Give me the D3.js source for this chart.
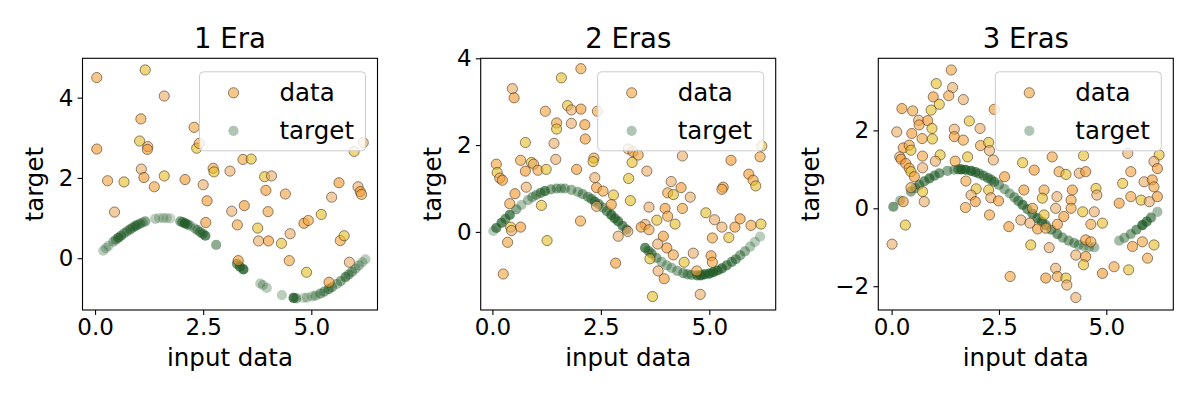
<!DOCTYPE html>
<html><head><meta charset="utf-8">
<script src="https://cdn.jsdelivr.net/npm/d3@7"></script>
<style>
body{margin:0;background:#fff}
svg{display:block}
text{font-family:"DejaVu Sans",sans-serif;fill:#000}
</style>
</head><body>
<svg id="chart" width="1200" height="400"></svg>
<script>
// ---------- labels & ticks ----------
const panelTitles = ["1 Era", "2 Eras", "3 Eras"];
const xLabel = "input data";
const yLabel = "target";
const legendLabels = ["data", "target"];
const xTickValues = [0.0, 2.5, 5.0];
const yTicks1 = [0, 2, 4];
const yTicks2 = [0, 2, 4];
const yTicks3 = [-2, 0, 2];
const xDomain1 = [-0.29, 6.53], yDomain1 = [-1.29, 4.98];
const xDomain2 = [-0.27, 6.53], yDomain2 = [-1.80, 4.00];
const xDomain3 = [-0.31, 6.56], yDomain3 = [-2.61, 3.85];

// ---------- panel 1 : data ----------
const data1X = [0.04,1.16,1.60,0.04,1.06,1.03,1.22,1.21,0.29,0.67,1.07,1.13,1.37,1.60,0.45,2.08,2.29,2.35,2.50,2.59,2.73,2.75,3.12,2.56,3.42,3.61,3.16,3.45,3.29,3.92,4.08,3.95,4.00,3.76,3.78,4.01,4.40,4.31,4.51,4.83,4.93,5.23,5.47,5.64,5.67,5.76,6.08,6.13,6.16,5.99,6.20,3.31,4.49,4.89,5.88,5.41,2.41];
const data1Y = [4.50,4.69,4.04,2.72,3.47,2.92,2.78,2.71,1.93,1.90,2.22,2.01,1.78,2.05,1.15,1.96,3.26,2.74,1.83,1.43,2.24,2.15,2.17,0.89,2.46,2.47,1.17,1.31,0.83,2.03,2.05,1.69,1.16,0.75,0.43,0.43,1.60,0.37,0.61,0.87,0.94,1.09,1.52,1.88,0.44,0.56,1.78,1.66,1.59,2.66,2.88,-0.06,-0.06,-0.35,-0.10,-0.60,2.86];
// ---------- panel 1 : target ----------
const target1X = [0.19,0.25,0.31,0.42,0.48,0.54,0.60,0.67,0.74,0.81,0.87,0.93,0.98,1.04,1.10,1.16,1.39,1.48,1.58,1.66,1.74,1.97,2.02,2.08,2.14,2.20,2.31,2.37,2.43,2.49,2.55,2.80,3.28,3.35,3.43,3.82,3.88,3.97,4.32,4.59,4.65,4.82,4.90,5.02,5.10,5.21,5.30,5.40,5.48,5.59,5.68,5.79,5.86,5.94,6.02,6.10,6.18,6.25];
const target1Y = [0.19,0.25,0.31,0.41,0.46,0.51,0.56,0.62,0.67,0.72,0.76,0.80,0.83,0.86,0.89,0.92,0.98,1.00,1.00,1.00,0.99,0.92,0.90,0.87,0.84,0.81,0.74,0.70,0.65,0.61,0.56,0.33,-0.14,-0.21,-0.28,-0.63,-0.67,-0.74,-0.92,-0.99,-1.00,-0.99,-0.98,-0.95,-0.93,-0.88,-0.83,-0.77,-0.72,-0.64,-0.57,-0.47,-0.41,-0.34,-0.26,-0.18,-0.10,-0.03];
const target1W = [0.3,0.3,0.3,0.4,0.5,0.7,0.6,0.5,0.5,0.6,0.5,0.6,0.5,0.5,0.4,0.5,0.3,0.25,0.3,0.25,0.25,0.5,0.6,0.8,0.6,0.4,0.4,0.5,0.5,0.6,0.7,0.5,0.6,0.7,0.8,0.3,0.3,0.3,0.3,0.8,0.5,0.25,0.3,0.3,0.4,0.5,0.5,0.6,0.5,0.4,0.5,0.6,0.5,0.5,0.4,0.4,0.3,0.3];

// ---------- panel 2 : data ----------
const data2X = [2.04,1.59,0.46,0.50,1.22,1.73,1.82,2.04,1.48,1.48,1.82,2.13,2.42,0.76,1.42,2.14,0.09,0.11,0.17,0.23,0.65,0.90,0.95,0.76,1.05,1.24,1.46,1.94,2.34,2.32,0.78,0.52,0.40,1.13,2.36,2.40,2.55,2.79,2.40,2.74,2.03,0.42,0.44,0.65,0.35,1.26,2.90,2.84,0.25,3.14,
  3.13,3.24,3.36,3.22,4.38,5.50,6.17,6.21,3.56,5.91,6.01,6.07,4.12,4.35,4.04,4.17,4.56,5.32,5.29,3.18,3.61,3.98,4.38,4.92,5.12,5.71,4.04,3.79,3.52,3.43,3.61,4.21,5.29,5.59,5.96,6.19,3.12,3.94,5.07,5.45,3.81,4.02,4.17,3.63,4.63,5.04,5.07,4.42,3.82,3.96,4.71,3.69,4.79];
const data2Y = [3.76,3.55,3.30,3.09,2.78,2.91,2.81,2.83,2.51,2.37,2.50,2.47,2.78,2.06,2.04,2.14,1.56,1.37,1.24,1.19,1.65,1.60,1.56,1.40,1.42,1.44,1.67,1.44,1.70,1.62,1.03,0.88,0.65,0.61,1.25,1.02,0.94,0.85,0.59,0.63,0.25,0.11,0.03,0.11,-0.24,-0.20,-0.10,-0.72,-0.97,1.23,
  1.91,1.85,1.77,1.60,1.75,1.65,1.73,1.98,1.40,1.33,1.19,1.06,1.16,1.02,0.90,0.86,0.80,1.03,0.98,0.72,0.57,0.54,0.54,0.44,0.28,0.30,0.36,0.27,0.17,0.11,0.05,0.18,0.11,0.11,0.15,0.18,0.01,-0.10,-0.14,-0.13,-0.28,-0.37,-0.53,-0.62,-0.49,-0.55,-0.70,-0.70,-0.90,-1.08,-0.90,-1.49,-1.44];
// ---------- panel 2 : target ----------
const target2X = [0.02,0.09,0.21,0.30,0.40,0.55,0.67,0.82,0.92,1.01,1.11,1.21,1.35,1.48,1.58,1.67,1.82,1.97,2.08,2.20,2.28,2.36,2.45,2.55,2.64,2.74,2.82,2.90,3.00,3.09,3.52,3.60,3.67,3.78,3.90,4.02,4.13,4.26,4.40,4.50,4.59,4.72,4.80,4.89,5.00,5.09,5.19,5.29,5.40,5.52,5.61,5.71,5.82,5.94,6.05,6.17];
const target2Y = [0.02,0.09,0.21,0.30,0.39,0.52,0.62,0.73,0.80,0.85,0.90,0.94,0.98,1.00,1.00,1.00,0.97,0.92,0.87,0.81,0.76,0.70,0.64,0.56,0.48,0.39,0.31,0.24,0.14,0.05,-0.37,-0.44,-0.50,-0.60,-0.69,-0.77,-0.83,-0.90,-0.95,-0.98,-0.99,-1.00,-1.00,-0.98,-0.96,-0.93,-0.89,-0.84,-0.77,-0.69,-0.63,-0.54,-0.45,-0.34,-0.23,-0.11];
const target2W = [0.3,0.7,0.7,0.6,0.7,0.5,0.35,0.4,0.45,0.5,0.6,0.7,0.5,0.5,0.45,0.45,0.45,0.45,0.5,0.5,0.6,0.7,0.6,0.5,0.6,0.75,0.7,0.7,0.65,0.6,0.7,0.6,0.6,0.5,0.4,0.4,0.4,0.45,0.5,0.5,0.5,0.7,0.8,0.8,0.8,0.8,0.75,0.7,0.65,0.6,0.55,0.5,0.45,0.35,0.3,0.3];

// ---------- panel 3 : data ----------
const data3X = [1.39,1.04,1.42,0.97,1.33,1.11,1.67,0.24,0.49,0.92,0.63,0.84,0.64,0.94,0.12,0.47,0.71,0.95,1.46,1.46,1.67,1.81,2.06,2.39,2.07,2.26,2.28,0.27,0.41,0.45,0.19,0.22,0.72,1.13,1.02,0.33,0.41,0.45,0.72,0.53,1.48,1.77,2.37,2.63,0.45,0.72,0.76,0.27,1.73,1.97,1.85,1.95,1.72,2.26,2.31,2.49,2.28,0.32,0.01,2.73,2.76,3.05,3.01,3.08,
  3.74,4.47,5.50,3.32,3.90,4.06,4.37,4.52,5.57,5.38,5.88,6.07,6.11,6.23,6.11,6.19,3.55,3.51,3.85,4.21,4.18,4.76,4.78,5.30,5.57,5.81,6.00,6.19,3.28,3.55,3.82,4.01,4.18,4.45,4.72,3.86,4.64,4.91,3.22,3.40,3.59,3.24,3.67,5.61,5.84,6.11,4.29,4.52,5.96,4.47,3.82,3.59,3.86,4.06,4.08,4.91,5.18,5.52,4.29,4.52,4.64];
const data3Y = [3.55,3.20,3.10,2.86,2.89,2.67,2.79,2.56,2.50,2.52,2.26,2.25,2.14,2.05,1.96,1.92,1.79,1.78,2.03,1.84,1.75,2.24,2.05,2.54,1.61,1.69,1.48,1.55,1.62,1.49,1.32,1.26,1.34,1.37,1.21,1.15,1.03,0.94,1.04,0.81,1.21,1.32,1.24,0.81,0.53,0.43,0.17,0.17,0.70,0.50,0.34,0.17,0.02,0.47,0.27,0.19,-0.17,-0.43,-0.92,-0.47,-1.75,1.17,-0.30,0.47,
  1.32,1.35,1.41,0.98,0.94,0.87,0.90,0.94,0.94,0.64,0.68,0.73,0.55,1.37,1.20,1.02,0.47,0.26,0.30,0.47,0.21,0.51,0.34,0.13,0.30,0.21,0.17,0.30,0.00,-0.17,0.00,-0.21,0.00,-0.09,-0.09,-0.41,-0.41,-0.38,-0.38,-0.53,-0.51,-0.94,-1.01,-0.98,-0.86,-0.94,-1.20,-1.24,-1.28,-1.45,-1.54,-1.79,-1.75,-1.79,-1.97,-1.67,-1.50,-1.58,-2.29,-0.81,-0.86];
// ---------- panel 3 : target ----------
const target3X = [0.04,0.20,0.45,0.55,0.64,0.76,0.88,1.00,1.11,1.30,1.46,1.55,1.62,1.72,1.85,1.95,2.04,2.14,2.24,2.32,2.39,2.50,2.63,2.75,2.86,2.95,3.05,3.16,3.28,3.40,3.50,3.59,3.72,3.86,3.98,4.12,4.25,4.36,4.48,4.60,4.72,5.30,5.42,5.57,5.70,5.84,5.94,6.04,6.19];
const target3Y = [0.04,0.20,0.43,0.52,0.60,0.69,0.77,0.84,0.90,0.96,0.99,1.00,1.00,0.99,0.96,0.93,0.89,0.84,0.78,0.73,0.68,0.60,0.49,0.38,0.28,0.19,0.09,-0.02,-0.14,-0.26,-0.35,-0.43,-0.55,-0.66,-0.75,-0.83,-0.89,-0.94,-0.97,-0.99,-1.00,-0.83,-0.76,-0.66,-0.55,-0.43,-0.34,-0.24,-0.09];
const target3W = [0.6,0.4,0.5,0.5,0.6,0.6,0.7,0.6,0.6,0.5,0.45,0.6,0.8,0.8,0.8,0.7,0.6,0.6,0.6,0.6,0.6,0.5,0.45,0.45,0.5,0.6,0.7,0.6,0.65,0.7,0.7,0.6,0.6,0.6,0.5,0.5,0.5,0.45,0.4,0.4,0.4,0.4,0.45,0.5,0.6,0.8,0.7,0.6,0.4];

// ---------- styles ----------
const dataPalette = ["#f2a23a", "#e4bc24", "#eaaa66", "#f4962a"];
const targetColor = "#1f5a26";

const W = 1200, H = 400;
const plotTop = 58.3, plotBottom = 310, plotW = 295;
const panelLefts = [82.5, 480.7, 878.3];
const R = 5.1;

const svg = d3.select("#chart");
svg.append("rect").attr("width", W).attr("height", H).attr("fill", "#fff");

const panels = [
  {title: panelTitles[0], xd: xDomain1, yd: yDomain1, yt: yTicks1, dx: data1X, dy: data1Y, tx: target1X, ty: target1Y, tw: target1W},
  {title: panelTitles[1], xd: xDomain2, yd: yDomain2, yt: yTicks2, dx: data2X, dy: data2Y, tx: target2X, ty: target2Y, tw: target2W},
  {title: panelTitles[2], xd: xDomain3, yd: yDomain3, yt: yTicks3, dx: data3X, dy: data3Y, tx: target3X, ty: target3Y, tw: target3W}
];

const fmtY = d => d < 0 ? "\u2212" + Math.abs(d) : String(d);

panels.forEach((p, pi) => {
  const left = panelLefts[pi], right = left + plotW;
  const x = d3.scaleLinear().domain(p.xd).range([left, right]);
  const y = d3.scaleLinear().domain(p.yd).range([plotBottom, plotTop]);
  const g = svg.append("g");

  const clipId = "clip" + pi;
  svg.append("clipPath").attr("id", clipId).append("rect")
    .attr("x", left).attr("y", plotTop).attr("width", plotW).attr("height", plotBottom - plotTop);

  const pts = g.append("g").attr("clip-path", `url(#${clipId})`);
  pts.append("g").selectAll("circle").data(d3.range(p.tx.length)).join("circle")
    .attr("cx", i => x(p.tx[i])).attr("cy", i => y(p.ty[i])).attr("r", R)
    .attr("fill", targetColor).attr("fill-opacity", i => p.tw[i]);
  pts.append("g").selectAll("circle").data(d3.range(p.dx.length)).join("circle")
    .attr("cx", i => x(p.dx[i])).attr("cy", i => y(p.dy[i])).attr("r", R)
    .attr("fill", i => dataPalette[i % dataPalette.length]).attr("fill-opacity", 0.6)
    .attr("stroke", "#3a2410").attr("stroke-opacity", 0.55).attr("stroke-width", 1);

  // axes
  const xa = g.append("g").attr("transform", `translate(0,${plotBottom})`)
    .call(d3.axisBottom(x).tickValues(xTickValues).tickFormat(d3.format(".1f")).tickSize(4.9).tickPadding(4.2));
  const ya = g.append("g").attr("transform", `translate(${left},0)`)
    .call(d3.axisLeft(y).tickValues(p.yt).tickFormat(fmtY).tickSize(4.9).tickPadding(4.2));
  [xa, ya].forEach(a => {
    a.select(".domain").remove();
    a.attr("font-family", null).attr("font-size", null);
    a.selectAll("line").attr("stroke", "#000").attr("stroke-width", 1.1);
    a.selectAll("text").style("font-size", "23px").attr("fill", "#000");
  });

  // frame
  g.append("rect").attr("x", left).attr("y", plotTop).attr("width", plotW).attr("height", plotBottom - plotTop)
    .attr("fill", "none").attr("stroke", "#000").attr("stroke-width", 1.1);

  // title and labels
  g.append("text").attr("x", left + plotW / 2).attr("y", 48.3).attr("text-anchor", "middle")
    .style("font-size", "27.5px").text(p.title);
  g.append("text").attr("x", left + plotW / 2).attr("y", 366).attr("text-anchor", "middle")
    .style("font-size", "24.5px").text(xLabel);
  let minX = left;
  ya.selectAll("text").each(function() { const b = this.getBBox(); const m = this.getCTM(); minX = Math.min(minX, b.x + m.e); });
  const yc = (plotTop + plotBottom) / 2;
  g.append("text").attr("transform", `translate(${minX - 16},${yc}) rotate(-90)`).attr("text-anchor", "middle")
    .style("font-size", "24.5px").text(yLabel);

  // legend
  const lw = 166, lh = 79;
  const lg = g.append("g").attr("transform", `translate(${right - 12 - lw},${plotTop + 13.5})`);
  lg.append("rect").attr("width", lw).attr("height", lh).attr("rx", 4)
    .attr("fill", "#fff").attr("fill-opacity", 0.8).attr("stroke", "#cccccc").attr("stroke-width", 1);
  lg.append("circle").attr("cx", 34).attr("cy", 21).attr("r", R)
    .attr("fill", dataPalette[0]).attr("fill-opacity", 0.6).attr("stroke", "#3a2410").attr("stroke-opacity", 0.55);
  lg.append("circle").attr("cx", 34).attr("cy", 59).attr("r", R)
    .attr("fill", targetColor).attr("fill-opacity", 0.35);
  lg.append("text").attr("x", 80).attr("y", 29).style("font-size", "24.5px").text(legendLabels[0]);
  lg.append("text").attr("x", 80).attr("y", 67).style("font-size", "24.5px").text(legendLabels[1]);
});
</script>
</body></html>
